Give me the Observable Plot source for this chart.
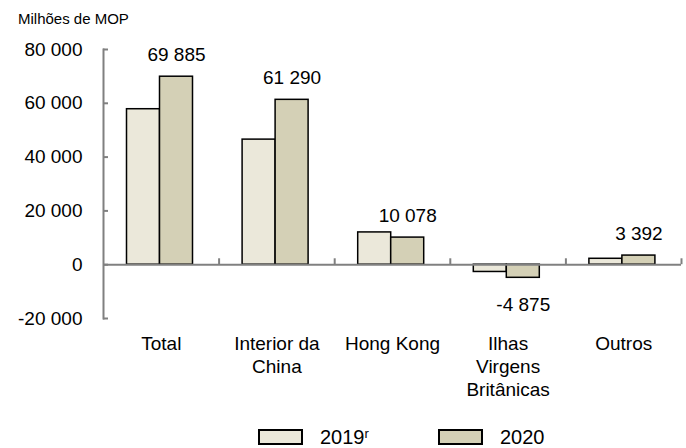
<!DOCTYPE html>
<html><head><meta charset="utf-8">
<script src="https://cdn.jsdelivr.net/npm/d3@7"></script>
<script src="https://cdn.jsdelivr.net/npm/@observablehq/plot@0.6"></script>
<style>
body{margin:0;background:#fff;font-family:"Liberation Sans",Arial,sans-serif;color:#000;}
#wrap{position:relative;width:686px;height:448px;overflow:hidden;}
#title{position:absolute;left:18px;top:10px;font-size:15px;line-height:18px;}
.item{position:absolute;top:427px;display:flex;align-items:center;font-size:20px;line-height:20px;}
.sw{width:45px;height:16px;box-sizing:border-box;border:2px solid #000;margin-right:17px;}
.item sup{font-size:13px;line-height:13px;vertical-align:top;position:relative;top:0px;}
</style></head><body>
<div id="wrap"><div id="chart"></div><div id="title"></div><div id="legend"></div></div>
<script>
const unitLabel = "Milhões de MOP";
const categories = ["Total","Interior da China","Hong Kong","Ilhas Virgens Britânicas","Outros"];
const categoryLabels = ["Total","Interior da\nChina","Hong Kong","Ilhas\nVirgens\nBritânicas","Outros"];
const values2019 = [57800, 46500, 12000, -2700, 2200];
const values2020 = [69885, 61290, 10078, -4875, 3392];
const years = ["2019", "2020"];
const yearNotes = ["r", ""];
const yearColors = ["#ebe8da", "#d4d0b6"];
const yTicks = [-20000, 0, 20000, 40000, 60000, 80000];
const yDomain = [-20000, 80000];

const W = 686, H = 448, mL = 103, mR = 5, mT = 49, mB = 130;
const bw = (W - mL - mR) / categories.length;
const gray = "#808080";
const fs = 19;
const locale = d3.formatLocale({decimal: ",", thousands: " ", grouping: [3], currency: ["", ""], minus: "-"});
const fmt = locale.format(",d");
const labelOf = new Map(categories.map((c, i) => [c, categoryLabels[i]]));

const d2019 = categories.map((c, i) => ({cat: c, v: values2019[i]}));
const d2020 = categories.map((c, i) => ({cat: c, v: values2020[i]}));
const sepTick = 2200;

const plot = Plot.plot({
  width: W, height: H,
  marginLeft: mL, marginRight: mR, marginTop: mT, marginBottom: mB,
  style: {fontFamily: "'Liberation Sans', Arial, sans-serif", fontSize: fs + "px", color: "#000", background: "#fff"},
  x: {domain: categories, padding: 0, round: false, axis: null},
  y: {domain: yDomain, axis: null},
  marks: [
    Plot.barY(d2019, {x: "cat", y1: 0, y2: "v", fill: yearColors[0], stroke: "#000", strokeWidth: 1.5, insetLeft: 23.5, insetRight: bw - 56.5}),
    Plot.barY(d2020, {x: "cat", y1: 0, y2: "v", fill: yearColors[1], stroke: "#000", strokeWidth: 1.5, insetLeft: 56.5, insetRight: bw - 89.5}),
    Plot.ruleY([0], {stroke: gray, strokeWidth: 2}),
    Plot.ruleX(categories, {x: d => d, y1: 0, y2: sepTick, dx: bw / 2, stroke: gray, strokeWidth: 2}),
    Plot.frame({anchor: "left", stroke: gray, strokeWidth: 2}),
    Plot.axisY({ticks: yTicks, tickFormat: fmt, tickSize: -5, tickPadding: 26, stroke: gray, strokeWidth: 2, fill: "#000", fontSize: fs, label: null}),
    Plot.axisX({tickSize: 0, tickPadding: 15, tickFormat: c => labelOf.get(c), fontSize: fs, lineHeight: 1.21, fill: "#000", label: null}),
    Plot.text(d2020.filter(d => d.v >= 0), {x: "cat", y: "v", text: d => fmt(d.v), dx: 73 - bw / 2, dy: -22, fontSize: fs, fill: "#000"}),
    Plot.text(d2020.filter(d => d.v < 0), {x: "cat", y: "v", text: d => fmt(d.v), dx: 73 - bw / 2, dy: 27, fontSize: fs, fill: "#000"})
  ]
});
document.getElementById("chart").appendChild(plot);
document.getElementById("title").textContent = unitLabel;

const legendLefts = [258, 438];
const legend = document.getElementById("legend");
years.forEach((y, i) => {
  const item = document.createElement("div");
  item.className = "item";
  item.style.left = legendLefts[i] + "px";
  const sw = document.createElement("div");
  sw.className = "sw";
  sw.style.background = yearColors[i];
  const t = document.createElement("span");
  t.textContent = y;
  if (yearNotes[i]) { const s = document.createElement("sup"); s.textContent = yearNotes[i]; t.appendChild(s); }
  item.appendChild(sw); item.appendChild(t);
  legend.appendChild(item);
});
</script>
</body></html>
